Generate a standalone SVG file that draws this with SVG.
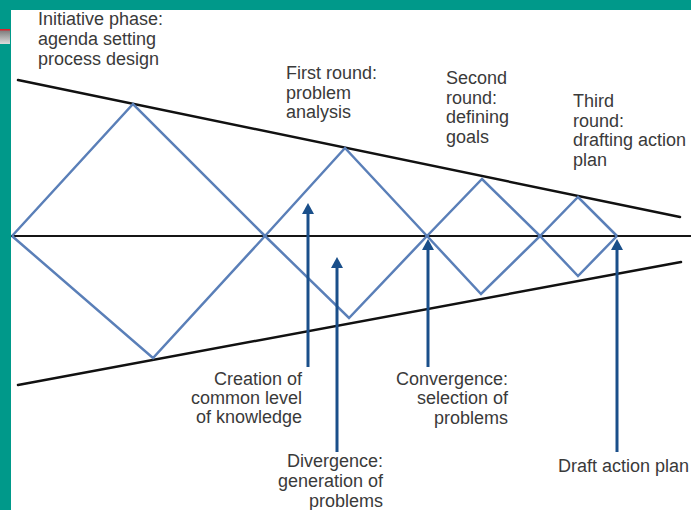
<svg xmlns="http://www.w3.org/2000/svg" width="691" height="510" viewBox="0 0 691 510">
<defs>
<linearGradient id="gbar" x1="0" y1="0" x2="0" y2="1">
<stop offset="0" stop-color="#7a7a7a"/>
<stop offset="1" stop-color="#dcdcdc"/>
</linearGradient>
<marker id="ah" viewBox="0 -6 11 12" markerUnits="userSpaceOnUse" markerWidth="11" markerHeight="12" refX="5" refY="0" orient="auto">
<path d="M0,-6 L11,0 L0,6 z" fill="#1a4f8a"/>
</marker>
</defs>
<style>
.lbl{font-family:"Liberation Sans",Arial,Helvetica,sans-serif;font-size:18px;fill:#3a3a3a}
.bound{stroke:#111;stroke-width:2.5;fill:none;stroke-linecap:round}
.axis{stroke:#151515;stroke-width:2;fill:none}
.zig{stroke:#5a7fb8;stroke-width:2.5;fill:none;stroke-linejoin:miter}
.arr{stroke:#1a4f8a;stroke-width:3;fill:none;marker-end:url(#ah)}
</style>
<rect x="0" y="0" width="691" height="510" fill="#ffffff"/>
<rect x="0" y="0" width="691" height="10" fill="#00998a"/>
<rect x="0" y="0" width="11" height="510" fill="#00998a"/>
<rect x="0" y="30" width="10" height="14" fill="url(#gbar)"/>
<rect x="0" y="29" width="10" height="1.5" fill="#e0202a"/>

<g id="frame">
<line class="bound" x1="18" y1="80" x2="680" y2="217"/>
<line class="bound" x1="18" y1="385" x2="681" y2="262"/>
<line class="axis" x1="11" y1="236" x2="691" y2="236"/>
</g>

<g id="zigzag">
<polyline class="zig" points="12,236 133,104 265,236 349,318 427,236 481,294 540,236 578,276 617,236"/>
<polyline class="zig" points="12,236 153,358 265,236 345,148 427,236 482,179 540,236 578,197 617,236"/>
</g>

<g id="connectors">
<line class="arr" x1="308" y1="367" x2="308" y2="209"/>
<line class="arr" x1="337" y1="452" x2="337" y2="263"/>
<line class="arr" x1="428" y1="367" x2="428" y2="245"/>
<line class="arr" x1="617" y1="452" x2="617" y2="245"/>
</g>

<g id="initiative">
<text class="lbl" x="38" y="25">Initiative phase:</text>
<text class="lbl" x="38" y="45">agenda setting</text>
<text class="lbl" x="38" y="65">process design</text>
</g>
<g id="first-round">
<text class="lbl" x="286" y="79">First round:</text>
<text class="lbl" x="286" y="99">problem</text>
<text class="lbl" x="286" y="118">analysis</text>
</g>
<g id="second-round">
<text class="lbl" x="446" y="84">Second</text>
<text class="lbl" x="446" y="104">round:</text>
<text class="lbl" x="446" y="123">defining</text>
<text class="lbl" x="446" y="143">goals</text>
</g>
<g id="third-round">
<text class="lbl" x="573" y="107">Third</text>
<text class="lbl" x="573" y="127">round:</text>
<text class="lbl" x="573" y="146">drafting action</text>
<text class="lbl" x="573" y="166">plan</text>
</g>
<g id="creation">
<text class="lbl" x="302" y="385" text-anchor="end">Creation of</text>
<text class="lbl" x="302" y="404" text-anchor="end">common level</text>
<text class="lbl" x="302" y="423" text-anchor="end">of knowledge</text>
</g>
<g id="divergence">
<text class="lbl" x="383" y="467" text-anchor="end">Divergence:</text>
<text class="lbl" x="383" y="487" text-anchor="end">generation of</text>
<text class="lbl" x="383" y="507" text-anchor="end">problems</text>
</g>
<g id="convergence">
<text class="lbl" x="508" y="385" text-anchor="end">Convergence:</text>
<text class="lbl" x="508" y="404" text-anchor="end">selection of</text>
<text class="lbl" x="508" y="424" text-anchor="end">problems</text>
</g>
<g id="draft">
<text class="lbl" x="558" y="472">Draft action plan</text>
</g>
</svg>
